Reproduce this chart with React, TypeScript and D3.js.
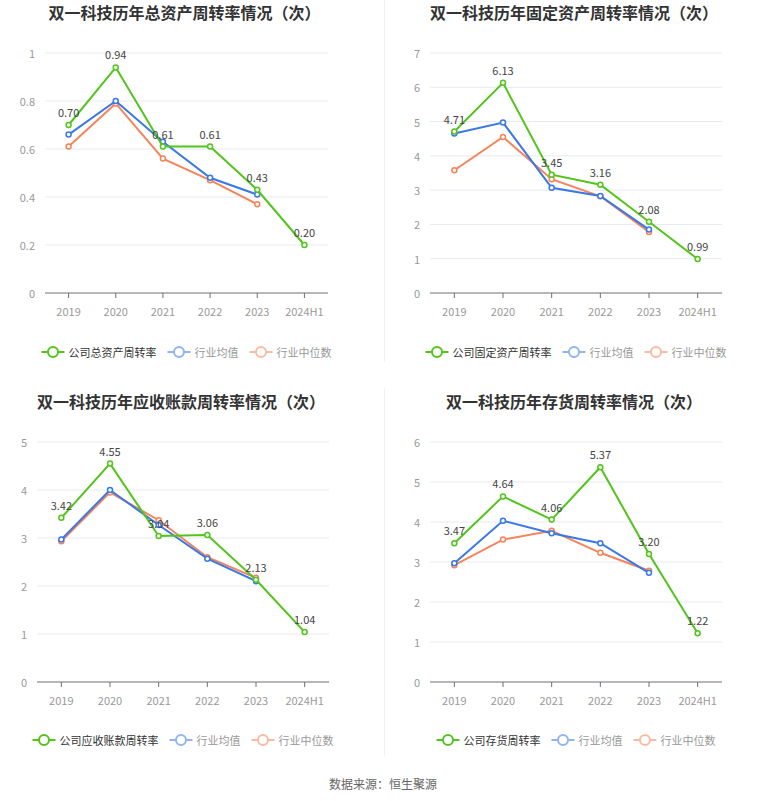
import * as d3 from 'd3';

const years = ['2019', '2020', '2021', '2022', '2023', '2024H1'];
const industryYears = ['2019', '2020', '2021', '2022', '2023'];

const totalAssetCompany = [0.70, 0.94, 0.61, 0.61, 0.43, 0.20];
const totalAssetAvg = [0.66, 0.80, 0.63, 0.48, 0.41];
const totalAssetMedian = [0.61, 0.79, 0.56, 0.47, 0.37];
const totalAssetTicks = [0, 0.2, 0.4, 0.6, 0.8, 1];

const fixedAssetCompany = [4.71, 6.13, 3.45, 3.16, 2.08, 0.99];
const fixedAssetAvg = [4.65, 4.97, 3.07, 2.83, 1.85];
const fixedAssetMedian = [3.58, 4.55, 3.32, 2.82, 1.78];
const fixedAssetTicks = [0, 1, 2, 3, 4, 5, 6, 7];

const receivableCompany = [3.42, 4.55, 3.04, 3.06, 2.13, 1.04];
const receivableAvg = [2.97, 4.00, 3.27, 2.57, 2.10];
const receivableMedian = [2.93, 3.95, 3.37, 2.60, 2.17];
const receivableTicks = [0, 1, 2, 3, 4, 5];

const inventoryCompany = [3.47, 4.64, 4.06, 5.37, 3.20, 1.22];
const inventoryAvg = [2.97, 4.03, 3.72, 3.47, 2.73];
const inventoryMedian = [2.92, 3.56, 3.78, 3.23, 2.78];
const inventoryTicks = [0, 1, 2, 3, 4, 5, 6];

const GREEN = '#52c41a';
const BLUE = '#3a78e6';
const ORANGE = '#f6845a';
const FONT = '"Noto Sans CJK SC", "Noto Sans", sans-serif';

interface PanelProps {
  title: string;
  legend: string;
  company: number[];
  avg: number[];
  median: number[];
  ticks: number[];
  left: number;
  right: number;
  top: number;
  bottom: number;
  titleY: number;
  legendY: number;
}

function Panel({ title, legend, company, avg, median, ticks, left, right, top, bottom, titleY, legendY }: PanelProps) {
  const x = d3.scalePoint<string>().domain(years).range([left, right]).padding(0.5);
  const y = d3.scaleLinear().domain([0, ticks[ticks.length - 1]]).range([bottom, top]);
  const line = d3.line<[string, number]>().x(d => x(d[0])!).y(d => y(d[1]));
  const cx = (left + right) / 2;

  const series = [
    { name: legend, color: GREEN, cats: years, vals: company, textColor: '#333', op: 1 },
    { name: '行业均值', color: BLUE, cats: industryYears, vals: avg, textColor: '#999', op: 0.55 },
    { name: '行业中位数', color: ORANGE, cats: industryYears, vals: median, textColor: '#999', op: 0.55 },
  ];

  // legend layout
  const itemW = series.map(s => 27 + s.name.length * 11);
  const gap = 11;
  const totalW = itemW.reduce((a, b) => a + b, 0) + gap * (series.length - 1);
  let lx = cx - totalW / 2;
  const legendItems = series.map((s, i) => {
    const item = { ...s, x: lx };
    lx += itemW[i] + gap;
    return item;
  });

  return (
    <g>
      <text x={cx - 2} y={titleY} textAnchor="middle" dominantBaseline="central" fontSize={16} fontWeight="bold" fill="#333" fontFamily={FONT}>
        {title}
      </text>
      {ticks.map(t => (
        <g key={t}>
          {t !== 0 && <line x1={left} x2={right} y1={y(t)} y2={y(t)} stroke="#e6eaf2" strokeWidth={1} />}
          <text x={left - 10} y={y(t)} textAnchor="end" dominantBaseline="central" fontSize={11} fill="#999" fontFamily={FONT}>
            {t}
          </text>
        </g>
      ))}
      <line x1={left} x2={right} y1={bottom} y2={bottom} stroke="#6e7079" strokeWidth={1} />
      {years.map(c => (
        <g key={c}>
          <line x1={x(c)} x2={x(c)} y1={bottom} y2={bottom + 5} stroke="#6e7079" />
          <text x={x(c)} y={bottom + 18} textAnchor="middle" dominantBaseline="central" fontSize={11} fill="#999" fontFamily={FONT}>
            {c}
          </text>
        </g>
      ))}
      {[...series].reverse().map(s => {
        const pts = s.cats.map((c, i) => [c, s.vals[i]] as [string, number]);
        return (
          <g key={s.name}>
            <path d={line(pts)!} fill="none" stroke={s.color} strokeWidth={2} />
            {pts.map(p => (
              <circle key={p[0]} cx={x(p[0])} cy={y(p[1])} r={2.5} fill="#fff" stroke={s.color} strokeWidth={1.5} />
            ))}
          </g>
        );
      })}
      {company.map((v, i) => (
        <text key={years[i]} x={x(years[i])} y={y(v) - 13} textAnchor="middle" dominantBaseline="central" fontSize={11} fill="#444" fontFamily={FONT}>
          {v.toFixed(2)}
        </text>
      ))}
      {legendItems.map(s => (
        <g key={s.name}>
          <g opacity={s.op}>
            <line x1={s.x} x2={s.x + 23} y1={legendY} y2={legendY} stroke={s.color} strokeWidth={2} />
            <circle cx={s.x + 11.5} cy={legendY} r={5} fill="#fff" stroke={s.color} strokeWidth={2} />
          </g>
          <text x={s.x + 27} y={legendY} dominantBaseline="central" fontSize={11} fill={s.textColor} fontFamily={FONT}>
            {s.name}
          </text>
        </g>
      ))}
    </g>
  );
}

export default function App() {
  return (
    <div style={{ position: 'absolute', left: 0, top: 0 }}>
      <svg width={765} height={801} viewBox="0 0 765 801" style={{ display: 'block', background: '#fff' }}>
        <line x1={384.5} x2={384.5} y1={0} y2={362} stroke="#f0f0f0" />
        <line x1={384.5} x2={384.5} y1={388} y2={756} stroke="#f0f0f0" />
        <Panel title="双一科技历年总资产周转率情况（次）" legend="公司总资产周转率" company={totalAssetCompany} avg={totalAssetAvg} median={totalAssetMedian} ticks={totalAssetTicks}
          left={45} right={328} top={53} bottom={293} titleY={12} legendY={352} />
        <Panel title="双一科技历年固定资产周转率情况（次）" legend="公司固定资产周转率" company={fixedAssetCompany} avg={fixedAssetAvg} median={fixedAssetMedian} ticks={fixedAssetTicks}
          left={430} right={722} top={53} bottom={293} titleY={12} legendY={352} />
        <Panel title="双一科技历年应收账款周转率情况（次）" legend="公司应收账款周转率" company={receivableCompany} avg={receivableAvg} median={receivableMedian} ticks={receivableTicks}
          left={37} right={329} top={442} bottom={682} titleY={401} legendY={740} />
        <Panel title="双一科技历年存货周转率情况（次）" legend="公司存货周转率" company={inventoryCompany} avg={inventoryAvg} median={inventoryMedian} ticks={inventoryTicks}
          left={430} right={722} top={442} bottom={682} titleY={401} legendY={740} />
        <text x={383} y={783} textAnchor="middle" dominantBaseline="central" fontSize={12} fill="#666" fontFamily={FONT}>
          数据来源：恒生聚源
        </text>
      </svg>
    </div>
  );
}
